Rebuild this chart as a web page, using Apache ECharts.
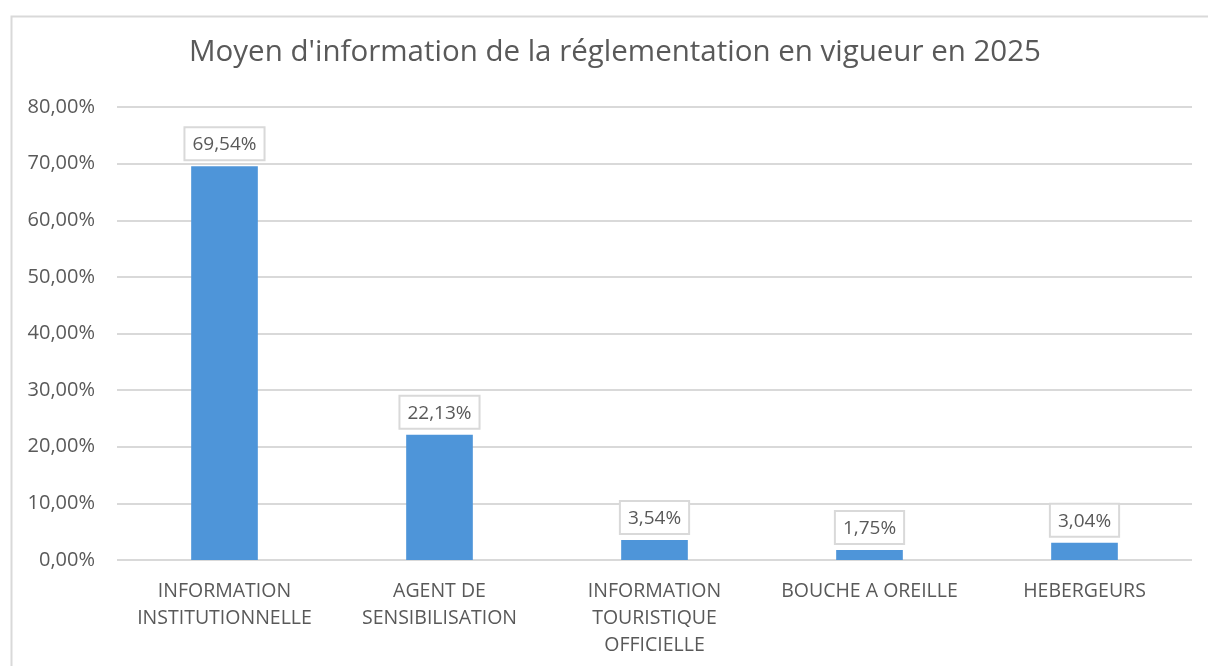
<!DOCTYPE html>
<html>
<head>
<meta charset="utf-8">
<script src="https://cdn.jsdelivr.net/npm/echarts@6/dist/echarts.min.js"></script>
<style>
  html, body { margin: 0; padding: 0; background: #fff; }
  #chart { width: 1208px; height: 666px; }
</style>
</head>
<body>
<div id="chart"></div>
<script>
var categories = [
    "INFORMATION\nINSTITUTIONNELLE",
    "AGENT DE\nSENSIBILISATION",
    "INFORMATION\nTOURISTIQUE\nOFFICIELLE",
    "BOUCHE A OREILLE",
    "HEBERGEURS"
];
var values = [69.54, 22.13, 3.54, 1.75, 3.04];
var yTicks = [0, 10, 20, 30, 40, 50, 60, 70, 80];

function frPercent(v) {
    return v.toFixed(2).replace(".", ",") + "%";
}

var textColor = "#595959";
var fontFamily = "'Open Sans', Roboto, sans-serif";

var myChart = echarts.init(document.getElementById("chart"));
var option = {
    animation: false,
    textStyle: { fontFamily: fontFamily },
    graphic: [
        {
            type: "rect",
            left: 9,
            top: 14,
            shape: { width: 1230, height: 700 },
            style: { fill: null, stroke: "#D9D9D9", lineWidth: 2 },
            silent: true
        }
    ],
    title: {
        text: "Moyen d'information de la réglementation en vigueur en 2025",
        left: 610,
        textAlign: "center",
        top: 33,
        textStyle: {
            color: textColor,
            fontSize: 29.5,
            fontWeight: "normal",
            fontFamily: fontFamily
        }
    },
    grid: {
        left: 117,
        right: 16,
        top: 107,
        bottom: 106,
        containLabel: false
    },
    xAxis: {
        type: "category",
        data: categories,
        axisLine: { show: false },
        axisTick: { show: false },
        axisLabel: {
            color: textColor,
            fontSize: 19.5,
            lineHeight: 27,
            margin: 18,
            interval: 0,
            verticalAlign: "top"
        }
    },
    yAxis: {
        type: "value",
        min: yTicks[0],
        max: yTicks[yTicks.length - 1],
        interval: 10,
        axisLine: { show: false },
        axisTick: { show: false },
        splitLine: { lineStyle: { color: "#D9D9D9", width: 2 } },
        axisLabel: {
            color: textColor,
            fontSize: 20,
            margin: 22,
            formatter: function (v) { return frPercent(v); }
        }
    },
    series: [
        {
            type: "bar",
            data: values,
            barWidth: "31%",
            itemStyle: { color: "#4E95D9" },
            label: {
                show: true,
                position: "top",
                distance: 7,
                color: textColor,
                fontSize: 19,
                backgroundColor: "#fff",
                borderColor: "#D9D9D9",
                borderWidth: 2,
                padding: [7, 7, 5, 7],
                formatter: function (p) { return frPercent(p.value); }
            }
        }
    ]
};
myChart.setOption(option);
window.addEventListener("resize", function () {
    myChart.resize();
});
</script>
</body>
</html>
